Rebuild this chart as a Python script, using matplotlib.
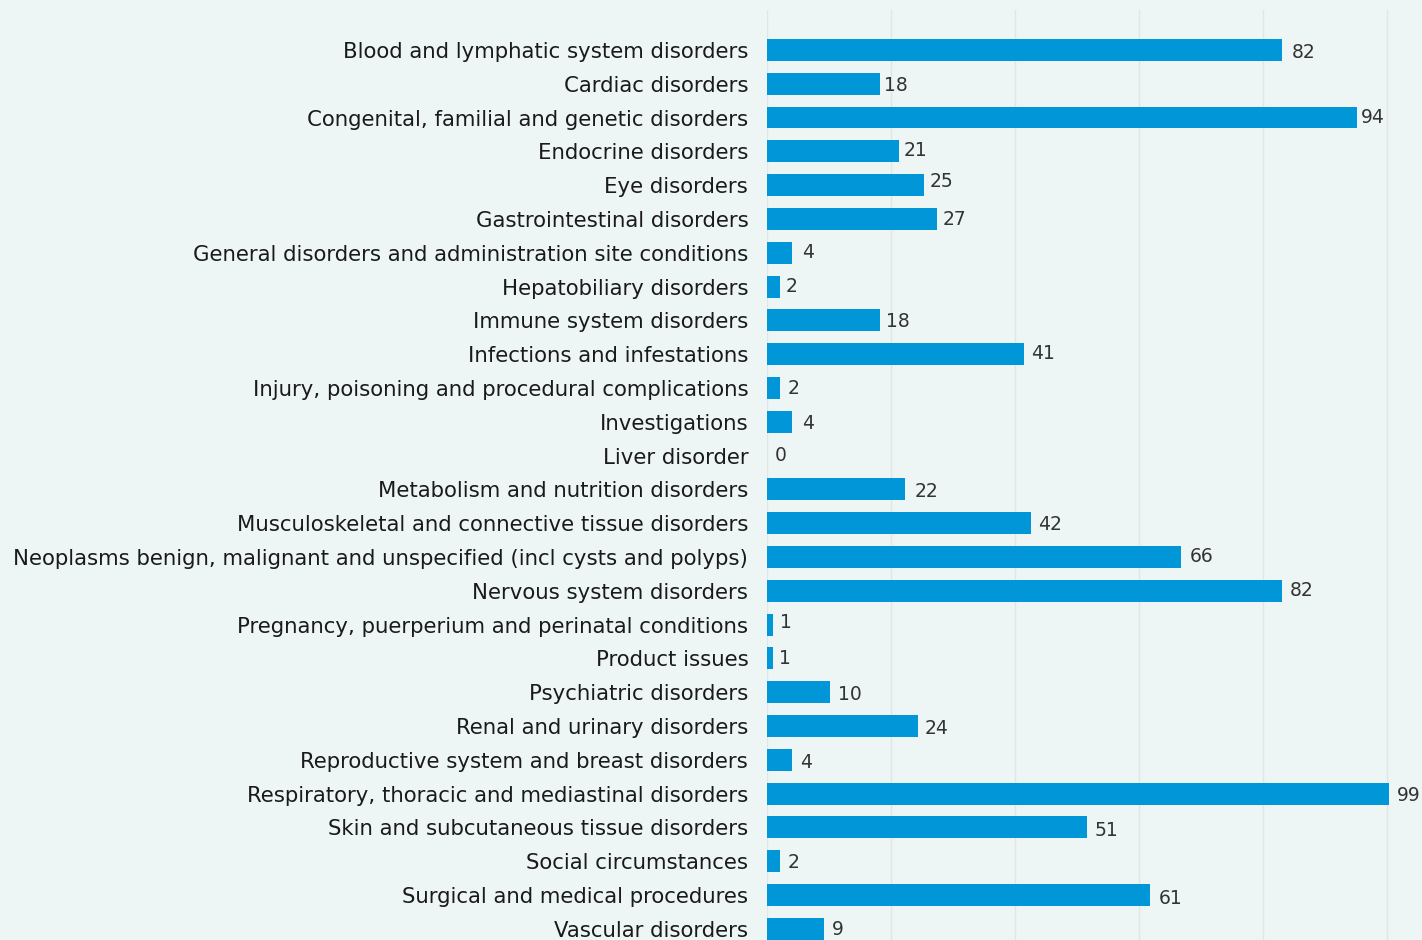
import matplotlib.pyplot as plt
import matplotlib.transforms as mtransforms

# Number of reports per system organ class
categories = [
    "Blood and lymphatic system disorders",
    "Cardiac disorders",
    "Congenital, familial and genetic disorders",
    "Endocrine disorders",
    "Eye disorders",
    "Gastrointestinal disorders",
    "General disorders and administration site conditions",
    "Hepatobiliary disorders",
    "Immune system disorders",
    "Infections and infestations",
    "Injury, poisoning and procedural complications",
    "Investigations",
    "Liver disorder",
    "Metabolism and nutrition disorders",
    "Musculoskeletal and connective tissue disorders",
    "Neoplasms benign, malignant and unspecified (incl cysts and polyps)",
    "Nervous system disorders",
    "Pregnancy, puerperium and perinatal conditions",
    "Product issues",
    "Psychiatric disorders",
    "Renal and urinary disorders",
    "Reproductive system and breast disorders",
    "Respiratory, thoracic and mediastinal disorders",
    "Skin and subcutaneous tissue disorders",
    "Social circumstances",
    "Surgical and medical procedures",
    "Vascular disorders",
]
counts = [82, 18, 94, 21, 25, 27, 4, 2, 18, 41, 2, 4, 0, 22, 42, 66, 82,
          1, 1, 10, 24, 4, 99, 51, 2, 61, 9]

# label nudges (pixels): gap after the bar end, and shift downwards
gap_px = [10, 4, 4, 5, 6, 6, 10, 6, 6, 7, 8, 10, 8, 9, 7, 8, 8,
          7, 6, 8, 7, 8, 8, 7, 8, 9, 8]
drop_px = [3, 2, 0, -1, -4, 1, 0, 0, 1, -1, 1, 2, 0, 2, 1, 0, 0,
           -2, 0, 2, 2, 3, 2, 3, 1, 3, 1]

bg = "#eef6f5"
bar_color = "#0096d8"

fig = plt.figure(figsize=(14.22, 9.4), dpi=100)
fig.patch.set_facecolor(bg)
ax = fig.add_axes([767 / 1422, 0, 1 - 767 / 1422, 1 - 10 / 940])
ax.set_facecolor(bg)

pos = list(range(len(categories)))
ax.barh(pos, counts, height=0.65, color=bar_color, zorder=2)

for i, v in enumerate(counts):
    ax.annotate(str(v), (v, i), xytext=(gap_px[i] * 0.72, -drop_px[i] * 0.72),
                textcoords="offset points", ha="left", va="center",
                fontsize=13.5, color="#333333", zorder=3)

ax.set_yticks(pos)
ax.set_yticklabels(categories, fontsize=15.35, color="#1a1a1a")
# lift the category labels a touch
lift = mtransforms.ScaledTranslation(0, 2 / 100, fig.dpi_scale_trans)
for lbl in ax.get_yticklabels():
    lbl.set_transform(lbl.get_transform() + lift)
ax.set_ylim(len(categories) - 1 + 0.33, -1.18)
ax.set_xlim(0, 104.3)
ax.set_xticks([19.73 * k for k in range(6)])
ax.tick_params(axis="x", bottom=False, labelbottom=False)
ax.tick_params(axis="y", left=False, pad=10)
ax.grid(axis="x", color="#e0e5e5", linewidth=1, zorder=0)
for s in ax.spines.values():
    s.set_visible(False)

fig.savefig("out.png", dpi=100, facecolor=bg)
